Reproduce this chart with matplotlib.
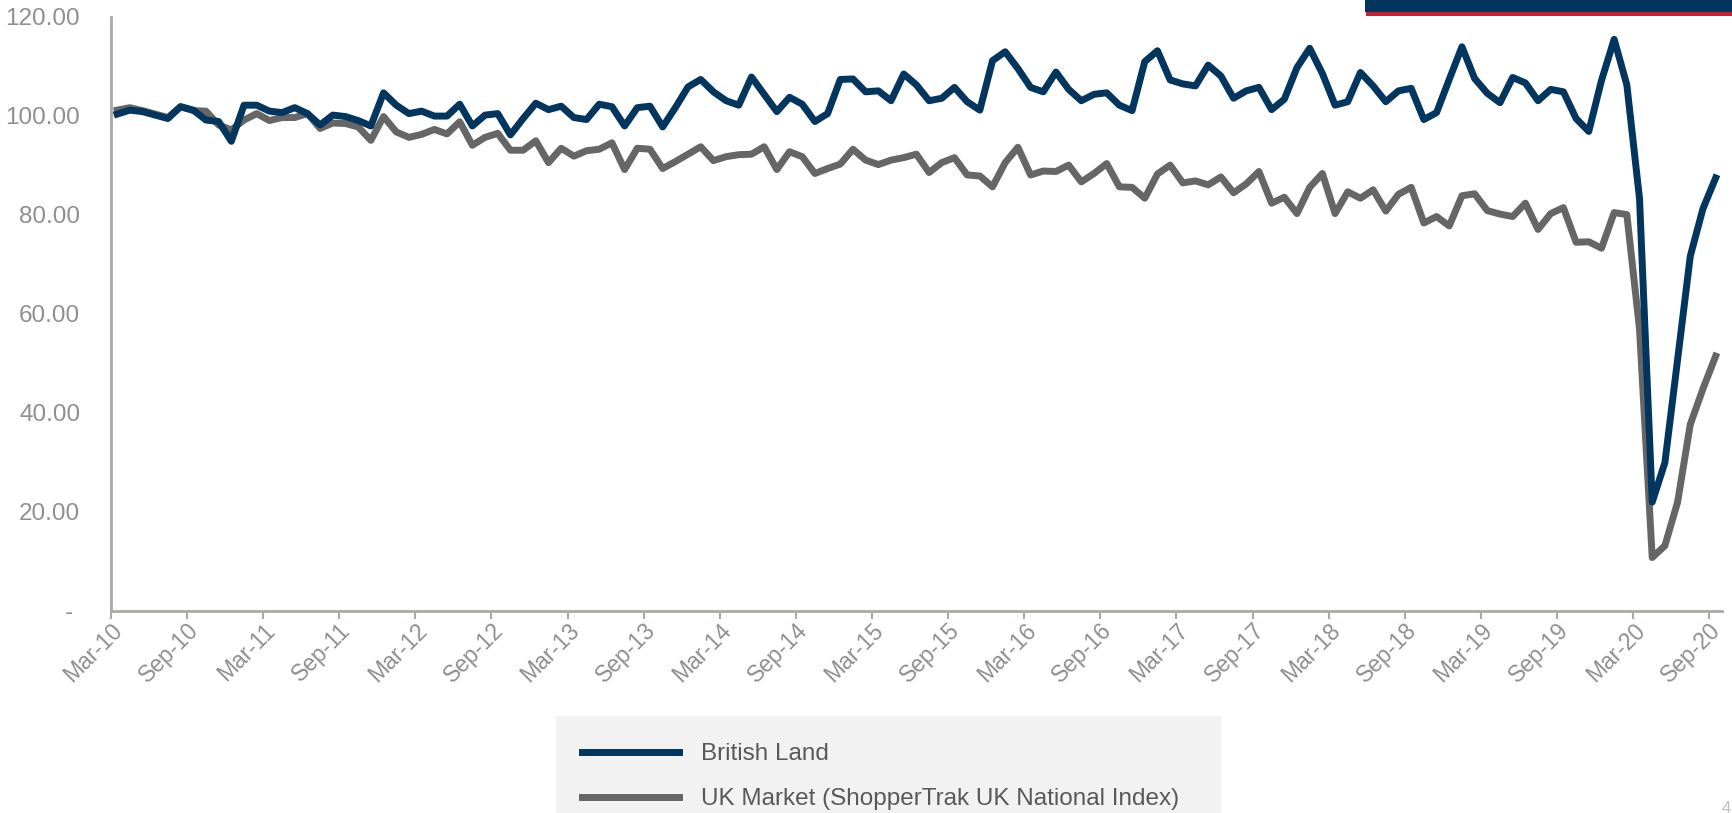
import numpy as np
import matplotlib
matplotlib.use('Agg')
import matplotlib.pyplot as plt
from matplotlib.patches import Rectangle

plt.rcParams['font.family'] = ['Liberation Sans', 'DejaVu Sans']

# monthly footfall index, Mar-10 .. Sep-20
british_land = [
    100.3, 101.1, 100.8, 100.1, 99.4, 101.8, 101.1, 99.1, 98.8, 94.8,
    102.1, 102.1, 100.9, 100.6, 101.6, 100.4, 98.1, 100.1, 99.8, 99.0,
    97.9, 104.6, 102.1, 100.4, 100.9, 99.9, 99.9, 102.3, 97.9, 100.1,
    100.4, 96.1, 99.4, 102.5, 101.2, 101.9, 99.6, 99.2, 102.3, 101.8,
    97.9, 101.6, 101.9, 97.7, 101.6, 105.8, 107.3, 104.8, 103.0, 102.1,
    107.8, 104.3, 100.8, 103.7, 102.3, 98.8, 100.4, 107.3, 107.4, 104.8,
    105.0, 103.0, 108.4, 106.2, 103.0, 103.5, 105.7, 102.8, 101.1, 111.1,
    112.9, 109.5, 105.7, 104.8, 108.8, 105.3, 103.0, 104.3, 104.6, 102.1,
    101.0, 110.9, 113.1, 107.2, 106.4, 106.0, 110.2, 108.0, 103.5, 105.0,
    105.7, 101.2, 103.3, 109.7, 113.6, 108.5, 102.1, 102.8, 108.7, 106.0,
    102.8, 105.0, 105.5, 99.2, 100.6, 107.3, 113.9, 107.5, 104.5, 102.6,
    107.7, 106.6, 103.0, 105.3, 104.8, 99.4, 96.8, 107.1, 115.4, 106.2,
    83.2, 21.9, 29.9, 50.7, 71.6, 81.2, 87.4,
]
uk_market = [
    101.1, 101.6, 101.0, 100.3, 99.6, 101.8, 101.0, 100.9, 98.1, 97.1,
    99.1, 100.4, 99.0, 99.6, 99.6, 100.4, 97.4, 98.5, 98.4, 97.7,
    95.0, 99.8, 96.7, 95.6, 96.2, 97.2, 96.3, 98.75, 94.0, 95.6,
    96.4, 93.0, 93.0, 94.9, 90.5, 93.4, 91.8, 92.9, 93.2, 94.5,
    89.1, 93.4, 93.2, 89.3, 90.7, 92.2, 93.7, 90.9, 91.7, 92.1,
    92.2, 93.7, 89.1, 92.7, 91.7, 88.3, 89.3, 90.2, 93.2, 91.0,
    90.1, 91.0, 91.5, 92.2, 88.5, 90.5, 91.5, 88.0, 87.8, 85.6,
    90.5, 93.6, 88.0, 88.8, 88.7, 90.0, 86.6, 88.3, 90.3, 85.6,
    85.5, 83.3, 88.2, 90.0, 86.4, 86.8, 86.0, 87.6, 84.4, 86.2,
    88.7, 82.3, 83.5, 80.2, 85.5, 88.3, 80.2, 84.6, 83.3, 85.0,
    80.7, 84.1, 85.5, 78.3, 79.6, 77.7, 83.8, 84.2, 80.8, 80.1,
    79.6, 82.3, 77.0, 80.2, 81.4, 74.4, 74.5, 73.2, 80.4, 80.0,
    56.8, 10.7, 13.1, 21.9, 37.6, 44.8, 51.4,
]
tick_labels = []
for yr in range(10, 21):
    tick_labels += [f"Mar-{yr}", f"Sep-{yr}"]
y_ticks = [0, 20, 40, 60, 80, 100, 120]
y_labels = ['- ', '20.00', '40.00', '60.00', '80.00', '100.00', '120.00']

NAVY = '#02365F'
GREY = '#666666'
AXIS = '#ADA9A5'
TXT = '#8F8F8F'

W, H = 1732, 813
fig = plt.figure(figsize=(W / 100, H / 100), dpi=100)

# legend box (cut by figure bottom), drawn below everything
fig.patches.append(Rectangle((556 / W, 0), (1221 - 556) / W, 1 - 716 / H,
                             transform=fig.transFigure, facecolor='#F2F2F2',
                             edgecolor='none', zorder=-5))

ax = fig.add_axes([110.8 / W, 1 - 610.5 / H, (1722 - 110.8) / W, (610.5 - 16.6) / H])
ax.patch.set_alpha(0)

x = np.arange(len(british_land)) + 0.5
l1, = ax.plot(x, british_land, color=NAVY, lw=5, zorder=3)
l2, = ax.plot(x, uk_market, color=GREY, lw=5, zorder=2)

ax.set_xlim(0, len(british_land))
ax.set_ylim(0, 120)
ax.set_xticks(np.arange(0, len(british_land), 6))
ax.set_xticklabels(tick_labels, rotation=45, ha='right', rotation_mode='anchor',
                   fontsize=16.5, color=TXT)
ax.set_yticks(y_ticks)
ax.set_yticklabels(y_labels, fontsize=17.5, color=TXT)
ax.tick_params(axis='y', length=0, pad=22)
ax.tick_params(axis='x', length=6, width=1.5, color=AXIS, pad=0, direction='out')
for s in ['top', 'right']:
    ax.spines[s].set_visible(False)
for s in ['left', 'bottom']:
    ax.spines[s].set_color(AXIS)
    ax.spines[s].set_linewidth(2)

leg = fig.legend([l1, l2], ['British Land', 'UK Market (ShopperTrak UK National Index)'],
                 loc='upper left', bbox_to_anchor=(582 / W, 1 - 743 / H),
                 frameon=False, fontsize=17.5, handlelength=4.0, handletextpad=0.9,
                 labelspacing=0.95, borderpad=0, borderaxespad=0)
for t in leg.get_texts():
    t.set_color('#595959')

# top-right banner
fig.patches.append(Rectangle((1365 / W, 1 - 12.5 / H), (W - 1365) / W, 12.5 / H,
                             transform=fig.transFigure, facecolor='#03355E', edgecolor='none'))
fig.patches.append(Rectangle((1366 / W, 1 - 16 / H), (W - 1366) / W, 3.5 / H,
                             transform=fig.transFigure, facecolor='#C8202F', edgecolor='none'))
fig.text(1722 / W, 1 - 816 / H, '4', fontsize=12, color='#BFBFBF', va='bottom')

fig.savefig('out.png', dpi=100)
